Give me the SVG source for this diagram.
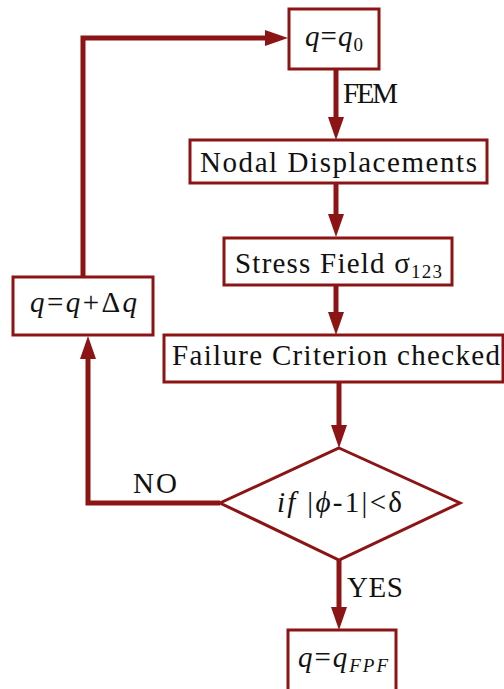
<svg xmlns="http://www.w3.org/2000/svg" width="504" height="689" viewBox="0 0 504 689">
<style>
.box{fill:#fff;stroke:#8c1414;stroke-width:3}
.con{fill:none;stroke:#8c1414;stroke-width:5}
text{font-family:"Liberation Serif","DejaVu Serif",serif;font-size:29px;fill:#111}
.i{font-style:italic}
</style>
<defs>
<marker id="ah" markerUnits="userSpaceOnUse" markerWidth="23" markerHeight="16" viewBox="0 0 23 16" refX="0" refY="8" orient="auto">
<path d="M0,0 L23,8 L0,16 z" fill="#8c1414"/>
</marker>
</defs>
<g id="connectors">
<path class="con" d="M336,69 V117" marker-end="url(#ah)"/>
<path class="con" d="M336,183 V214" marker-end="url(#ah)"/>
<path class="con" d="M336,285 V312" marker-end="url(#ah)"/>
<path class="con" d="M339,382 V425" marker-end="url(#ah)"/>
<path class="con" d="M339,560 V607" marker-end="url(#ah)"/>
<path class="con" d="M220,503 H88 V359" marker-end="url(#ah)"/>
<path class="con" d="M83,277 V38 H265" marker-end="url(#ah)"/>
<text x="343" y="103" textLength="55">FEM</text>
<text x="133" y="493" textLength="44">NO</text>
<text x="347" y="597" textLength="56">YES</text>
</g>
<g id="n-q0">
<rect class="box" x="289" y="9" width="90" height="60"/>
<text x="305" y="46" textLength="58"><tspan class="i">q</tspan>=<tspan class="i">q</tspan><tspan font-size="19" dy="5">0</tspan></text>
</g>
<g id="n-nodal">
<rect class="box" x="190" y="140" width="297" height="43"/>
<text x="200" y="172" textLength="277">Nodal Displacements</text>
</g>
<g id="n-stress">
<rect class="box" x="224" y="238" width="228" height="47"/>
<text x="235" y="273" textLength="207">Stress Field σ<tspan font-size="19" dy="5">123</tspan></text>
</g>
<g id="n-failure">
<rect class="box" x="164" y="335" width="339" height="47"/>
<text x="172" y="365" textLength="328">Failure Criterion checked</text>
</g>
<g id="n-check">
<polygon class="box" points="339,448 460,503 339,560 220,503"/>
<text x="277" y="512" textLength="125"><tspan class="i">if</tspan> |<tspan class="i">ϕ</tspan>-1|&lt;δ</text>
</g>
<g id="n-update">
<rect class="box" x="13" y="277" width="140" height="58"/>
<text x="30" y="312" textLength="107"><tspan class="i">q</tspan>=<tspan class="i">q</tspan>+Δ<tspan class="i">q</tspan></text>
</g>
<g id="n-fpf">
<rect class="box" x="288" y="630" width="108" height="62"/>
<text x="298" y="667" textLength="90"><tspan class="i">q</tspan>=<tspan class="i">q</tspan><tspan class="i" font-size="19" dy="5">FPF</tspan></text>
</g>
</svg>
